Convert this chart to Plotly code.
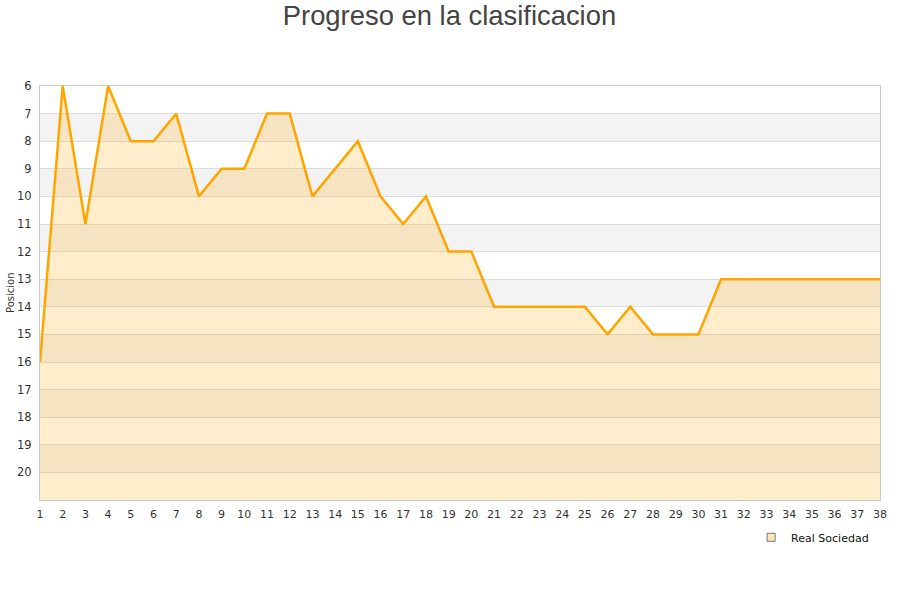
import plotly.graph_objects as go

jornadas = list(range(1, 39))
posiciones = [16, 6, 11, 6, 8, 8, 7, 10, 9, 9, 7, 7, 10, 9, 8, 10, 11, 10, 12, 12,
              14, 14, 14, 14, 14, 15, 14, 15, 15, 15, 13, 13, 13, 13, 13, 13, 13, 13]
y_ticks = list(range(6, 21))
team = "Real Sociedad"
title = "Progreso en la clasificacion"
y_title = "Posicion"

fig = go.Figure()
# baseline for fill
fig.add_trace(go.Scatter(x=jornadas, y=[21] * len(jornadas), mode="lines",
                         line=dict(width=0), hoverinfo="skip", showlegend=False))
fig.add_trace(go.Scatter(x=jornadas, y=posiciones, mode="lines", fill="tonexty",
                         fillcolor="rgba(255,165,0,0.2)",
                         line=dict(color="#FFA500", width=2.5), showlegend=False, name=team))
# legend entry
fig.add_trace(go.Scatter(x=[None], y=[None], mode="markers", name=team,
                         marker=dict(symbol="square", size=8, color="#FFE5B8",
                                     line=dict(color="#777", width=1))))

shapes = []
for k in range(7, 21, 2):
    shapes.append(dict(type="rect", xref="paper", yref="y", x0=0, x1=1, y0=k, y1=k + 1,
                       fillcolor="#f3f3f3", line=dict(width=0), layer="below"))

fig.update_layout(
    width=900, height=600,
    paper_bgcolor="white", plot_bgcolor="white",
    margin=dict(l=40, r=20, t=86, b=100, autoexpand=False),
    title=dict(text=title, xref="container", x=0.4994, xanchor="center",
               yref="container", y=0.975, yanchor="middle",
               font=dict(family="Liberation Sans, Arial", size=27.4, color="#444")),
    font=dict(family="DejaVu Sans", size=11, color="#333"),
    shapes=shapes,
    showlegend=True,
    legend=dict(x=0.993, xanchor="right", y=-0.055, yanchor="top",
                font=dict(family="DejaVu Sans", size=11, color="#111"),
                bgcolor="rgba(0,0,0,0)"),
    annotations=[dict(text=y_title, xref="paper", yref="paper", x=-0.0357, y=0.5,
                      xanchor="center", yanchor="middle", textangle=-90, showarrow=False,
                      font=dict(size=10, color="#333"))],
    xaxis=dict(range=[1, 38], tickmode="array", tickvals=jornadas, showgrid=False,
               showline=True, linecolor="#ccc", mirror=True, zeroline=False,
               ticks="", tickfont=dict(size=11, color="#333"), automargin=False,
               ticklabelstandoff=4),
    yaxis=dict(range=[21, 6], tickmode="array", tickvals=y_ticks, showgrid=True,
               gridcolor="#dddddd", showline=True, linecolor="#ccc", mirror=True,
               zeroline=False, ticks="", tickfont=dict(size=11.5, color="#333"),
               automargin=False, ticklabelstandoff=5),
)
fig.write_html("out.html", config={"displayModeBar": False},
               post_script="document.body.style.margin='0';")
